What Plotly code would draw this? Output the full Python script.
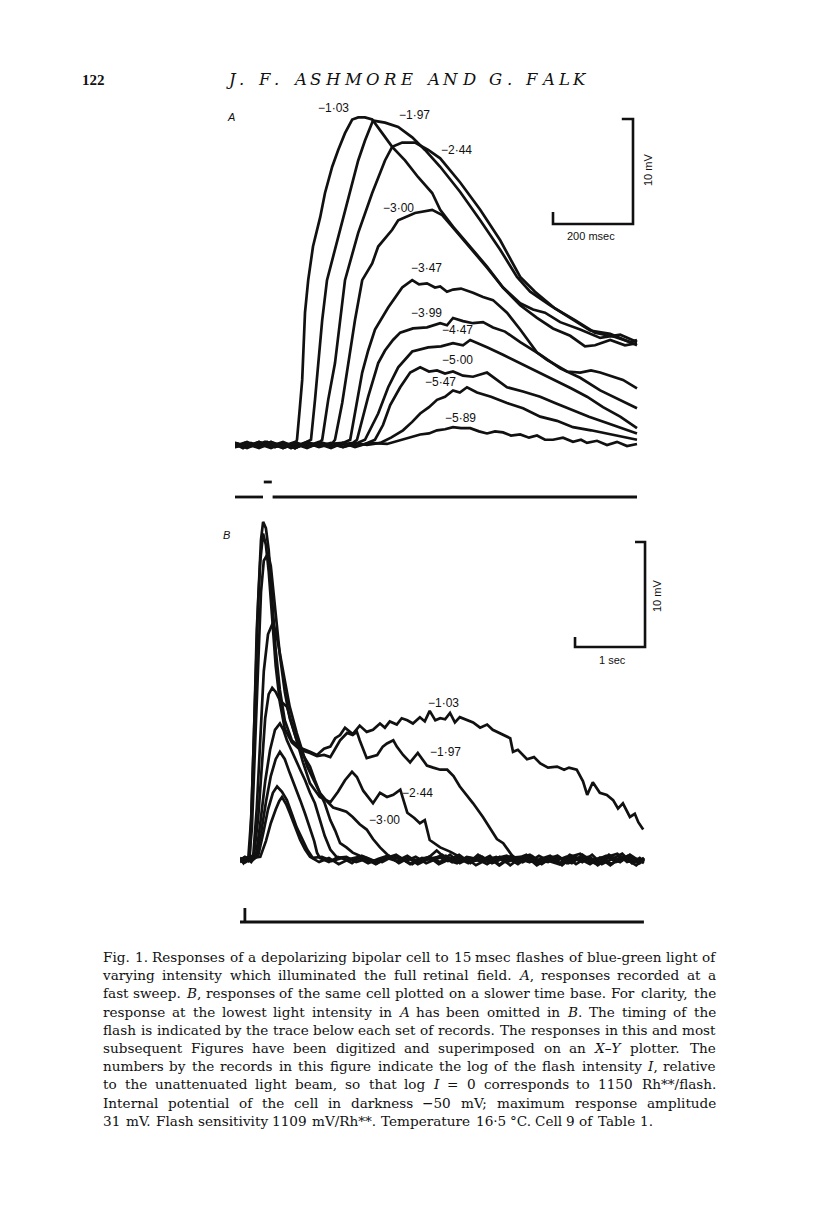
import re
import plotly.graph_objects as go

W, H = 816, 1229

# ---------------- Panel A : fast sweep (time in ms, response in mV) ----------------
A_names = ["−1·03", "−1·97", "−2·44", "−3·00", "−3·47", "−3·99", "−4·47", "−5·00", "−5·47", "−5·89"]

A_t_103 = [0, 20, 40, 60, 80, 100, 120, 140, 150, 155, 162, 168, 175, 183, 195, 213, 225, 243, 258, 275,
           293, 308, 325, 343, 368, 393, 425, 458, 493, 513, 545, 588, 630, 670, 713, 755, 795, 838, 875, 900,
           938, 975, 1005]
A_v_103 = [0.1, -0.3, 0.2, -0.1, 0.3, -0.2, 0.1, -0.3, 0.0, 0.5, 3.5, 6.2, 12.6, 15.7, 18.9, 21.7, 24.0, 26.5, 28.1, 29.7,
           31.0, 31.2, 31.2, 31.0, 29.7, 28.4, 27.1, 25.5, 24.0, 22.4, 20.8, 18.9, 17.0, 15.0, 13.3, 12.1, 11.1, 10.4, 9.4, 9.5,
           10.0, 9.5, 9.7]

A_t_197 = [0, 25, 50, 75, 100, 125, 150, 175, 190, 200, 208, 218, 230, 250, 275, 293, 308, 325, 338, 345,
           375, 408, 443, 475, 513, 563, 613, 663, 705, 738, 788, 838, 888, 938, 975, 1005]
A_v_197 = [-0.2, 0.2, -0.1, 0.3, -0.2, 0.1, -0.3, 0.2, 0.5, 4.3, 7.8, 11.9, 15.7, 18.6, 22.4, 25.0, 27.1, 29.0, 30.2, 30.9,
           30.7, 30.3, 29.3, 28.1, 26.5, 24.1, 21.4, 18.6, 16.0, 14.6, 13.3, 12.1, 10.9, 10.6, 10.0, 9.5]

A_t_244 = [0, 30, 60, 90, 120, 150, 180, 205, 218, 233, 250, 275, 308, 343, 375, 393, 418, 450, 483, 513,
           563, 613, 663, 713, 750, 800, 850, 900, 950, 988, 1005]
A_v_244 = [0.2, -0.2, 0.1, -0.3, 0.2, -0.1, 0.3, 0.0, 0.5, 4.3, 7.8, 15.7, 20.2, 24.0, 27.1, 28.4, 28.8, 28.8, 28.1, 27.3,
           25.0, 22.4, 19.5, 16.0, 14.6, 13.0, 11.9, 10.7, 10.3, 9.8, 10.0]

A_t_300 = [0, 30, 60, 90, 120, 150, 180, 210, 240, 250, 268, 283, 300, 318, 343, 358, 393, 408, 450, 493,
           518, 545, 588, 630, 670, 713, 745, 775, 813, 863, 913, 963, 1005]
A_v_300 = [-0.1, 0.3, -0.2, 0.1, -0.3, 0.2, -0.1, 0.3, 0.0, 0.5, 4.0, 7.8, 11.9, 15.7, 17.3, 18.9, 20.5, 21.4, 22.1, 22.4,
           21.9, 20.7, 18.8, 16.9, 15.0, 13.5, 12.9, 12.6, 11.7, 11.0, 10.2, 10.5, 9.8]

A_t_347 = [0, 30, 60, 90, 120, 150, 180, 210, 240, 270, 288, 303, 318, 333, 350, 383, 418, 443, 460, 480,
           500, 513, 530, 545, 565, 595, 620, 645, 680, 713, 755, 780, 830, 863, 890, 913, 940, 970, 1005]
A_v_347 = [0.2, -0.2, 0.3, -0.1, 0.1, -0.3, 0.2, -0.2, 0.1, 0.2, 0.5, 3.8, 6.9, 9.0, 11.0, 13.1, 15.0, 15.7, 15.3, 15.4,
           15.0, 15.1, 14.6, 14.8, 14.9, 14.5, 14.1, 13.8, 12.6, 11.0, 8.8, 8.1, 7.0, 6.9, 7.1, 6.9, 6.6, 6.2, 5.4]

A_t_399 = [0, 30, 60, 90, 120, 150, 180, 210, 240, 270, 295, 305, 333, 358, 375, 395, 413, 445, 480, 513,
           530, 545, 570, 595, 620, 645, 675, 713, 763, 813, 863, 913, 963, 1005]
A_v_399 = [-0.2, 0.2, -0.1, 0.3, -0.3, 0.1, -0.2, 0.2, -0.1, 0.1, 0.2, 0.5, 4.6, 7.8, 9.0, 10.0, 10.7, 11.1, 11.2, 11.6,
           11.4, 12.1, 11.8, 11.6, 11.7, 11.2, 10.8, 9.8, 8.6, 7.3, 6.4, 5.2, 4.3, 3.5]

A_t_447 = [0, 30, 60, 90, 120, 150, 180, 210, 240, 270, 300, 325, 358, 383, 408, 443, 483, 515, 545, 570,
           588, 610, 630, 670, 713, 755, 795, 840, 880, 920, 963, 1005]
A_v_447 = [0.1, -0.3, 0.2, -0.1, 0.3, -0.2, 0.1, -0.1, 0.2, -0.2, 0.1, 0.5, 3.0, 5.5, 7.4, 8.9, 9.3, 9.4, 9.7, 9.5,
           10.0, 9.6, 9.3, 8.6, 7.8, 7.0, 6.2, 5.4, 4.6, 3.6, 2.7, 1.6]

A_t_500 = [0, 30, 60, 90, 120, 150, 180, 210, 240, 270, 300, 325, 350, 370, 388, 413, 438, 463, 485, 505,
           525, 545, 570, 595, 630, 655, 680, 720, 763, 800, 845, 885, 930, 970, 1005]
A_v_500 = [-0.1, 0.2, -0.2, 0.3, -0.1, 0.1, -0.3, 0.2, -0.1, 0.2, -0.2, 0.1, 0.5, 1.9, 3.8, 5.5, 6.9, 7.4, 7.0, 7.1,
           6.8, 7.0, 6.6, 6.5, 6.9, 6.2, 5.5, 5.1, 4.6, 4.0, 3.3, 2.7, 2.1, 1.6, 1.1]

A_t_547 = [0, 30, 60, 90, 120, 150, 180, 210, 240, 270, 300, 330, 363, 390, 420, 443, 463, 485, 505, 525,
           545, 562, 580, 605, 640, 680, 720, 763, 805, 845, 890, 930, 970, 1005]
A_v_547 = [0.2, -0.1, 0.3, -0.2, 0.1, -0.3, 0.2, -0.1, 0.1, -0.2, 0.2, 0.0, 0.2, 0.7, 1.4, 2.2, 3.0, 3.6, 4.3, 4.6,
           5.2, 5.0, 5.5, 5.0, 4.6, 4.0, 3.5, 2.7, 2.3, 1.7, 1.4, 1.1, 0.8, 0.5]

A_t_589 = [0, 30, 60, 90, 120, 150, 180, 210, 240, 270, 300, 338, 380, 420, 440, 463, 485, 505, 525, 545,
           565, 588, 610, 630, 650, 670, 690, 713, 735, 755, 775, 795, 820, 845, 865, 880, 905, 930, 955, 980,
           1005]
A_v_589 = [-0.2, 0.1, -0.3, 0.2, -0.1, 0.3, -0.2, 0.1, -0.3, 0.2, -0.1, 0.2, 0.1, 0.5, 0.7, 1.0, 1.1, 1.4, 1.5, 1.7,
           1.6, 1.6, 1.3, 1.1, 1.3, 1.2, 0.9, 1.0, 0.7, 0.9, 0.5, 0.5, 0.7, 0.3, 0.5, 0.2, 0.4, 0.0, 0.3, -0.1,
           0.1]

A_label_t = [245, 448, 553, 408, 478, 478, 555, 555, 513, 563]
A_label_v = [32.1, 31.4, 28.1, 22.6, 16.9, 12.6, 11.0, 8.1, 6.0, 2.6]

# flash monitor (0 = off, 1 = on), ms
A_flash_t = [0, 70, None, 72, 92, None, 94, 1005]
A_flash_on = [0, 0, None, 1, 1, None, 0, 0]

# ---------------- Panel B : slow time base (time in s, response in mV) ----------------
B_names = ["−1·03", "−1·97", "−2·44", "−3·00"]

B_t_103 = [0, 0.05, 0.10, 0.14, 0.17, 0.21, 0.26, 0.30, 0.33, 0.37, 0.41, 0.46, 0.51, 0.57, 0.64, 0.74, 0.86, 1.00, 1.10, 1.20,
           1.29, 1.36, 1.43, 1.50, 1.61, 1.71, 1.81, 1.90, 2.00, 2.07, 2.14, 2.24, 2.31, 2.39, 2.47, 2.57, 2.64, 2.71, 2.79, 2.86,
           2.93, 3.00, 3.07, 3.14, 3.24, 3.33, 3.43, 3.53, 3.61, 3.76, 3.86, 3.90, 3.97, 4.10, 4.20, 4.29, 4.40, 4.53, 4.63, 4.70,
           4.81, 4.90, 4.96, 5.04, 5.14, 5.24, 5.33, 5.40, 5.47, 5.57, 5.64, 5.69, 5.76]
B_v_103 = [0.1, -0.3, 0.2, 0.3, 5.7, 15.2, 24.8, 30.5, 32.2, 31.6, 29.5, 24.8, 20.0, 16.2, 13.3, 11.4, 10.7, 10.3, 10.0, 10.6,
           10.8, 11.6, 11.9, 12.6, 12.0, 12.8, 12.2, 12.4, 13.0, 12.6, 13.2, 12.9, 13.5, 13.3, 13.0, 13.6, 13.2, 14.2, 13.3, 13.5,
           13.4, 14.0, 13.1, 13.6, 13.3, 13.1, 12.6, 12.9, 12.4, 11.9, 11.6, 10.3, 10.5, 9.6, 9.8, 9.2, 8.8, 8.9, 8.6, 8.8,
           8.6, 7.5, 6.2, 7.4, 6.4, 6.2, 5.7, 4.9, 5.4, 4.1, 4.4, 3.6, 2.9]

B_t_197 = [0, 0.06, 0.12, 0.16, 0.20, 0.24, 0.29, 0.33, 0.37, 0.41, 0.46, 0.51, 0.57, 0.64, 0.74, 0.86, 1.00, 1.10, 1.20, 1.29,
           1.36, 1.43, 1.53, 1.61, 1.67, 1.71, 1.81, 1.90, 1.96, 2.04, 2.10, 2.19, 2.24, 2.33, 2.43, 2.54, 2.60, 2.67, 2.76, 2.86,
           2.96, 3.05, 3.14, 3.24, 3.33, 3.47, 3.61, 3.67, 3.76, 3.90, 4.04,
           4.17, 4.31, 4.46, 4.60, 4.74, 4.89, 5.03, 5.17, 5.31, 5.46, 5.60, 5.71, 5.77]
B_v_197 = [0.2, -0.2, 0.3, 4.0, 12.0, 22.0, 28.5, 31.1, 30.0, 27.5, 23.0, 18.5, 15.0, 12.5, 11.2, 10.5, 10.2, 9.9, 10.0, 9.8,
           10.6, 11.4, 12.1, 11.9, 12.2, 11.4, 9.7, 9.9, 10.0, 10.8, 11.1, 11.4, 10.8, 10.0, 9.3, 10.2, 9.6, 9.0, 8.8, 8.6,
           8.6, 8.0, 7.0, 6.2, 5.4, 4.1, 2.6, 2.0, 1.6, 0.3, -0.2,
           0.4, -0.3, 0.2, -0.5, 0.3, -0.2, 0.5, -0.4, 0.1, 0.6, -0.3, 0.2, -0.1]

B_t_244 = [0, 0.07, 0.13, 0.17, 0.21, 0.26, 0.30, 0.34, 0.40, 0.44, 0.50, 0.57, 0.64, 0.71, 0.81, 0.90, 1.00, 1.14, 1.29, 1.40,
           1.50, 1.60, 1.67, 1.76, 1.90, 2.00, 2.10, 2.19, 2.29, 2.39, 2.49, 2.57, 2.64, 2.71, 2.86, 3.00, 3.14,
           3.29, 3.43, 3.57, 3.71, 3.86, 4.00, 4.14, 4.29, 4.43, 4.57, 4.71, 4.86, 5.00, 5.14, 5.29, 5.43, 5.57, 5.71, 5.77]
B_v_244 = [0.0, 0.3, 0.1, 3.0, 10.0, 19.0, 25.5, 28.5, 29.2, 28.0, 24.0, 19.5, 16.0, 13.5, 11.4, 9.3, 7.3, 6.0, 5.5, 6.5,
           7.6, 8.4, 7.9, 6.6, 5.4, 6.4, 6.0, 6.2, 6.7, 4.5, 4.0, 3.5, 3.8, 1.9, 1.2, 0.8, 0.3,
           -0.3, 0.4, -0.2, 0.3, -0.5, 0.2, 0.5, -0.3, 0.1, -0.4, 0.3, 0.6, -0.2, 0.2, -0.5, 0.3, 0.1, -0.3, 0.2]

B_t_300 = [0, 0.06, 0.12, 0.19, 0.24, 0.29, 0.34, 0.40, 0.47, 0.52, 0.57, 0.64, 0.71, 0.81, 0.96, 1.05, 1.14, 1.24, 1.33, 1.43,
           1.52, 1.61, 1.71, 1.81, 1.90, 2.00, 2.14,
           2.29, 2.43, 2.57, 2.71, 2.86, 3.00, 3.14, 3.29, 3.43, 3.57, 3.71, 3.86, 4.00, 4.14, 4.29, 4.43, 4.57, 4.71, 4.86, 5.00,
           5.14, 5.29, 5.43, 5.57, 5.71, 5.77]
B_v_300 = [-0.2, 0.2, -0.1, 0.5, 5.0, 12.0, 18.0, 21.5, 22.6, 21.5, 19.5, 17.1, 14.6, 12.1, 8.9, 7.6, 6.4, 5.6, 5.0, 4.8,
           4.6, 4.1, 3.4, 2.9, 2.0, 1.2, 0.3,
           0.2, -0.4, 0.1, 0.3, -0.2, 0.5, -0.3, 0.2, -0.1, 0.4, -0.5, 0.2, 0.3, -0.2, 0.1, 0.4, -0.3, 0.5, 0.1, -0.4,
           0.2, 0.3, -0.2, 0.5, -0.1, 0.2]

B_t_347 = [0, 0.07, 0.14, 0.20, 0.26, 0.31, 0.36, 0.41, 0.46, 0.51, 0.57, 0.67, 0.74, 0.81, 0.90, 1.00, 1.07, 1.14, 1.21, 1.29,
           1.36, 1.43, 1.52, 1.61, 1.71, 1.81,
           1.96, 2.10, 2.24, 2.39, 2.53, 2.67, 2.81, 2.96, 3.10, 3.24, 3.39, 3.53, 3.67, 3.81, 3.96, 4.10, 4.24, 4.39, 4.53, 4.67,
           4.81, 4.96, 5.10, 5.24, 5.39, 5.53, 5.67, 5.77]
B_v_347 = [0.1, -0.2, 0.2, 0.5, 4.0, 9.0, 13.5, 15.8, 16.4, 16.0, 15.2, 14.6, 13.0, 11.4, 10.0, 8.9, 7.6, 6.4, 5.4, 3.8,
           2.8, 1.6, 1.2, 0.7, 0.4, 0.2,
           -0.3, 0.2, -0.1, 0.4, -0.2, 0.1, 0.9, 0.0, -0.3, 0.3, 0.1, -0.4, 0.2, 0.4, -0.2, 0.3, -0.5, 0.1, 0.4, -0.3,
           0.2, 0.0, -0.4, 0.3, 0.6, -0.2, 0.1, -0.3]

B_t_399 = [0, 0.08, 0.16, 0.23, 0.29, 0.36, 0.43, 0.50, 0.57, 0.62, 0.67, 0.76, 0.86, 0.93, 1.00, 1.07, 1.14, 1.21, 1.29, 1.39,
           1.52, 1.66, 1.80, 1.94, 2.09, 2.23, 2.37, 2.51, 2.66, 2.80, 2.94, 3.09, 3.23, 3.37, 3.51, 3.66, 3.80, 3.94, 4.09, 4.23,
           4.37, 4.51, 4.66, 4.80, 4.94, 5.09, 5.23, 5.37, 5.51, 5.66, 5.77]
B_v_399 = [-0.1, 0.2, -0.2, 0.5, 3.5, 7.5, 10.5, 12.4, 13.0, 12.4, 11.4, 10.0, 8.6, 7.6, 6.4, 5.4, 3.8, 2.3, 1.0, 0.2,
           0.3, -0.2, 0.1, -0.4, 0.2, 0.5, -0.1, 0.3, -0.3, 0.1, 0.4, -0.2, 0.2, -0.5, 0.0, 0.3, -0.2, 0.1, 0.5, -0.3,
           0.2, -0.1, 0.3, -0.4, 0.2, 0.0, 0.4, -0.2, 0.1, -0.5, 0.1]

B_t_447 = [0, 0.08, 0.16, 0.23, 0.30, 0.37, 0.44, 0.51, 0.57, 0.64, 0.71, 0.79, 0.86, 0.93, 1.00, 1.06, 1.10, 1.14,
           1.27, 1.40, 1.54, 1.69, 1.83, 1.97, 2.11, 2.26, 2.40, 2.54, 2.69, 2.83, 2.97, 3.11, 3.26, 3.40, 3.54, 3.69, 3.83, 3.97,
           4.11, 4.26, 4.40, 4.54, 4.69, 4.83, 4.97, 5.11, 5.26, 5.40, 5.54, 5.69, 5.77]
B_v_447 = [0.2, -0.1, 0.1, 0.4, 2.5, 5.5, 8.0, 9.6, 10.3, 9.6, 8.3, 7.0, 5.7, 4.4, 3.1, 1.8, 0.7, 0.2,
           -0.2, 0.3, 0.0, 0.2, -0.3, 0.1, 0.4, -0.2, 0.2, -0.4, 0.1, 0.3, -0.1, 0.2, -0.3, 0.5, -0.2, 0.1, 0.2, -0.4,
           0.3, 0.0, -0.2, 0.4, -0.3, 0.1, 0.3, -0.5, 0.2, -0.1, 0.4, -0.2, 0.0]

B_t_500 = [0, 0.08, 0.16, 0.26, 0.33, 0.40, 0.47, 0.53, 0.60, 0.67, 0.74, 0.81, 0.89, 0.96, 1.04,
           1.17, 1.31, 1.46, 1.60, 1.74, 1.89, 2.03, 2.17, 2.31, 2.46, 2.60, 2.74, 2.89, 3.03, 3.17, 3.31, 3.46, 3.60, 3.74, 3.89,
           4.03, 4.17, 4.31, 4.46, 4.60, 4.74, 4.89, 5.03, 5.17, 5.31, 5.46, 5.60, 5.74, 5.77]
B_v_500 = [-0.2, 0.2, -0.1, 0.4, 2.5, 4.8, 6.4, 7.0, 6.5, 5.7, 4.4, 3.1, 2.0, 1.0, 0.2,
           0.3, -0.1, 0.2, -0.3, 0.4, 0.0, -0.2, 0.3, 0.1, -0.4, 0.2, 0.0, 0.5, -0.2, 0.2, -0.1, 0.3, -0.3, 0.1, 0.4,
           -0.2, 0.2, -0.4, 0.3, 0.1, -0.3, 0.5, -0.1, 0.2, -0.4, 0.3, 0.0, -0.2, 0.1]

B_t_547 = [0, 0.08, 0.17, 0.29, 0.37, 0.44, 0.51, 0.56, 0.60, 0.66, 0.71, 0.79, 0.86, 0.93, 1.00,
           1.13, 1.27, 1.41, 1.56, 1.70, 1.84, 1.99, 2.13, 2.27, 2.41, 2.56, 2.70, 2.84, 2.99, 3.13, 3.27, 3.41, 3.56, 3.70, 3.84,
           3.99, 4.13, 4.27, 4.41, 4.56, 4.70, 4.84, 4.99, 5.13, 5.27, 5.41, 5.56, 5.70, 5.77]
B_v_547 = [0.1, -0.2, 0.2, 0.3, 1.8, 3.5, 4.8, 5.6, 6.0, 5.3, 4.5, 3.2, 1.9, 1.0, 0.3,
           -0.2, 0.2, -0.4, 0.1, 0.3, -0.2, 0.0, 0.4, -0.3, 0.2, -0.1, 0.3, -0.4, 0.1, 0.5, -0.2, 0.0, 0.2, -0.5, 0.3,
           0.1, -0.2, 0.4, -0.1, -0.4, 0.2, 0.0, 0.3, -0.3, 0.5, -0.1, 0.2, -0.3, 0.0]

B_label_t = [2.91, 2.93, 2.53, 2.07]
B_label_v = [15.0, 10.3, 6.4, 3.8]

B_flash_t = [0, 0.07, 0.07, 0.07, 5.77]
B_flash_on = [0, 0, 1, 0, 0]

# calibration bars
A_bar_ms, A_bar_mV = 200, 10
B_bar_s, B_bar_mV = 1, 10

page_number = "122"
running_head = "J. F. ASHMORE AND G. FALK"

caption_lines = [
    "Fig. 1. Responses of a depolarizing bipolar cell to 15 msec flashes of blue-green light of",
    "varying intensity which illuminated the full retinal field. <i>A</i>, responses recorded at a",
    "fast sweep. <i>B</i>, responses of the same cell plotted on a slower time base. For clarity, the",
    "response at the lowest light intensity in <i>A</i> has been omitted in <i>B</i>. The timing of the",
    "flash is indicated by the trace below each set of records. The responses in this and most",
    "subsequent Figures have been digitized and superimposed on an <i>X–Y</i> plotter. The",
    "numbers by the records in this figure indicate the log of the flash intensity <i>I</i>, relative",
    "to the unattenuated light beam, so that log <i>I</i> = 0 corresponds to 1150 Rh**/flash.",
    "Internal potential of the cell in darkness −50 mV; maximum response amplitude",
    "31 mV. Flash sensitivity 1109 mV/Rh**. Temperature 16·5 °C. Cell 9 of Table 1.",
]

# ---------------- approximate DejaVu Serif advance widths (em) for text layout ----------------
_EM = {' ': 0.318, 'a': 0.596, 'b': 0.640, 'c': 0.560, 'd': 0.640, 'e': 0.592, 'f': 0.370, 'g': 0.640,
       'h': 0.644, 'i': 0.320, 'j': 0.310, 'k': 0.606, 'l': 0.320, 'm': 0.948, 'n': 0.644, 'o': 0.602,
       'p': 0.640, 'q': 0.640, 'r': 0.478, 's': 0.513, 't': 0.402, 'u': 0.644, 'v': 0.565, 'w': 0.856,
       'x': 0.564, 'y': 0.565, 'z': 0.527,
       'A': 0.722, 'B': 0.735, 'C': 0.720, 'D': 0.802, 'E': 0.729, 'F': 0.693, 'G': 0.775, 'H': 0.872,
       'I': 0.395, 'J': 0.401, 'K': 0.747, 'L': 0.664, 'M': 1.024, 'N': 0.875, 'O': 0.785, 'P': 0.683,
       'Q': 0.785, 'R': 0.770, 'S': 0.685, 'T': 0.733, 'U': 0.850, 'V': 0.722, 'W': 1.028, 'X': 0.728,
       'Y': 0.694, 'Z': 0.696,
       '.': 0.318, ',': 0.318, '-': 0.338, '/': 0.337, '*': 0.500, '°': 0.500, '·': 0.318, '−': 0.838,
       '=': 0.838, ';': 0.337, ':': 0.337, '–': 0.500, '(': 0.390, ')': 0.390}
for _d in "0123456789":
    _EM[_d] = 0.636


def text_width(s, size):
    s = re.sub(r"</?i>", "", s)
    return sum(_EM.get(ch, 0.6) for ch in s) * size


# ---------------------------------------------------------------------------------
# the page body has an 8 px margin, so page pixel p sits at figure pixel p - 8
OFF = 8


def py(p):
    return 1 - (p - OFF) / H


def pxx(p):
    return (p - OFF) / W


INK = "#111111"
LW = 2.7

fig = go.Figure()

A_series = [(A_t_103, A_v_103), (A_t_197, A_v_197), (A_t_244, A_v_244), (A_t_300, A_v_300),
            (A_t_347, A_v_347), (A_t_399, A_v_399), (A_t_447, A_v_447), (A_t_500, A_v_500),
            (A_t_547, A_v_547), (A_t_589, A_v_589)]
for name, (t, v) in zip(A_names, A_series):
    fig.add_trace(go.Scatter(x=t, y=v, mode="lines", name=name, xaxis="x", yaxis="y",
                             line=dict(color=INK, width=LW), hoverinfo="skip"))
fig.add_trace(go.Scatter(x=A_flash_t, y=A_flash_on, mode="lines", xaxis="x2", yaxis="y2",
                         line=dict(color=INK, width=2.8), connectgaps=False, hoverinfo="skip"))

B_series = [(B_t_103, B_v_103), (B_t_197, B_v_197), (B_t_244, B_v_244), (B_t_300, B_v_300),
            (B_t_347, B_v_347), (B_t_399, B_v_399), (B_t_447, B_v_447), (B_t_500, B_v_500),
            (B_t_547, B_v_547)]
for t, v in B_series:
    fig.add_trace(go.Scatter(x=t, y=v, mode="lines", xaxis="x3", yaxis="y3",
                             line=dict(color=INK, width=LW), hoverinfo="skip"))
fig.add_trace(go.Scatter(x=B_flash_t, y=B_flash_on, mode="lines", xaxis="x4", yaxis="y4",
                         line=dict(color=INK, width=2.8), hoverinfo="skip"))

ann = []
lab_font = dict(family="Liberation Sans, Arial, sans-serif", size=12, color=INK)
for name, t, v in zip(A_names, A_label_t, A_label_v):
    ann.append(dict(x=t, y=v, xref="x", yref="y", xanchor="center", yanchor="middle", text=name,
                    showarrow=False, font=lab_font))
for name, t, v in zip(B_names, B_label_t, B_label_v):
    ann.append(dict(x=t, y=v, xref="x3", yref="y3", xanchor="center", yanchor="middle", text=name,
                    showarrow=False, font=lab_font))

small = dict(family="Liberation Sans, Arial, sans-serif", size=11, color=INK)


def paper_text(x, y, text, font, **kw):
    d = dict(x=pxx(x), y=py(y), xref="paper", yref="paper", xanchor="center", yanchor="middle",
             text=text, showarrow=False, font=font)
    d.update(kw)
    return d


ann += [
    paper_text(591, 236, "200 msec", small),
    paper_text(648, 170, "10 mV", small, textangle=-90),
    paper_text(612, 660, "1 sec", small),
    paper_text(657, 596, "10 mV", small, textangle=-90),
    paper_text(231, 117, "<i>A</i>", small),
    paper_text(226, 535, "<i>B</i>", small),
    paper_text(80, 80, "<b>" + page_number + "</b>", dict(family="Liberation Serif, serif", size=15, color=INK),
               xanchor="left"),
]

# running head: italic capitals, letter-spaced across x = 228 .. 586
RH_SIZE, RH_L, RH_R = 16.5, 228, 586
rh_font = dict(family="DejaVu Serif, serif", size=RH_SIZE, color=INK)
rh_w = [text_width(c, RH_SIZE) for c in running_head]
track = (RH_R - RH_L - sum(rh_w)) / (len(running_head) - 1)
xpos = RH_L
for c, wc in zip(running_head, rh_w):
    if c != " ":
        ann.append(paper_text(xpos + wc / 2, 80, "<i>" + c + "</i>", rh_font))
    xpos += wc + track

# justified caption (last line set ragged)
CAP_SIZE, CAP_L, CAP_R, CAP_Y0, CAP_DY = 13.6, 103, 716, 957, 18.2
cap_font = dict(family="DejaVu Serif, serif", size=CAP_SIZE, color=INK)
space_w = text_width(" ", CAP_SIZE)
for i, line in enumerate(caption_lines):
    words = line.split(" ")
    ws = [text_width(w, CAP_SIZE) for w in words]
    if i < len(caption_lines) - 1 and len(words) > 1:
        gap = max((CAP_R - CAP_L - sum(ws)) / (len(words) - 1), 0.7 * space_w)
    else:
        gap = space_w
    x = CAP_L
    for w, wd in zip(words, ws):
        ann.append(paper_text(x + wd / 2, CAP_Y0 + CAP_DY * i, w, cap_font))
        x += wd + gap

shapes = [
    dict(type="path", xref="x", yref="y",
         path=f"M {995 - A_bar_ms},22.2 L {995 - A_bar_ms},21.05 L 995,21.05 L 995,{21.05 + A_bar_mV} L 967,{21.05 + A_bar_mV}",
         line=dict(color=INK, width=2.6)),
    dict(type="path", xref="x3", yref="y3",
         path=f"M {5.786 - B_bar_s},21.24 L {5.786 - B_bar_s},20.29 L 5.786,20.29 L 5.786,{20.29 + B_bar_mV} L 5.643,{20.29 + B_bar_mV}",
         line=dict(color=INK, width=2.6)),
]

ax = dict(visible=False, showgrid=False, zeroline=False, fixedrange=True)
fig.update_layout(
    width=W, height=H, margin=dict(l=0, r=0, t=0, b=0),
    paper_bgcolor="white", plot_bgcolor="white", showlegend=False,
    xaxis=dict(ax, domain=[pxx(235), pxx(640)], range=[0, 1012.5]),
    yaxis=dict(ax, domain=[py(465), py(100)], range=[-1.905, 32.857]),
    xaxis2=dict(ax, domain=[pxx(235), pxx(640)], range=[0, 1012.5], anchor="y2"),
    yaxis2=dict(ax, domain=[py(505), py(470)], range=[-0.533, 1.8], anchor="x2"),
    xaxis3=dict(ax, domain=[pxx(240), pxx(650)], range=[0, 5.857], anchor="y3"),
    yaxis3=dict(ax, domain=[py(880), py(505)], range=[-1.905, 33.81], anchor="x3"),
    xaxis4=dict(ax, domain=[pxx(240), pxx(650)], range=[0, 5.857], anchor="y4"),
    yaxis4=dict(ax, domain=[py(930), py(900)], range=[-0.571, 1.571], anchor="x4"),
    annotations=ann, shapes=shapes,
)
fig.write_html("out.html")
